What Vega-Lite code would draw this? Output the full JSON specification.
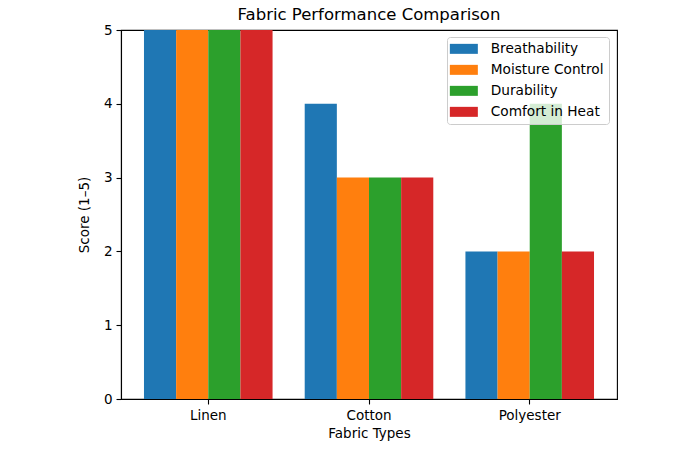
{
  "$schema": "https://vega.github.io/schema/vega-lite/v6.json",
  "autosize": {"type": "none"},
  "padding": {"left": 121, "top": 30, "right": 83, "bottom": 51},
  "width": 496,
  "height": 369,
  "title": {
    "text": "Fabric Performance Comparison",
    "font": "DejaVu Sans",
    "fontSize": 16.5,
    "fontWeight": "normal",
    "color": "black",
    "offset": 0
  },
  "config": {
    "font": "DejaVu Sans",
    "view": {"stroke": "black", "strokeWidth": 1.1},
    "axis": {
      "labelFont": "DejaVu Sans",
      "labelFontSize": 13.5,
      "labelColor": "black",
      "titleFont": "DejaVu Sans",
      "titleFontSize": 13.5,
      "titleFontWeight": "normal",
      "titleColor": "black",
      "domainColor": "black",
      "domainWidth": 1.1,
      "tickColor": "black",
      "tickWidth": 1.1,
      "tickSize": 5,
      "grid": false
    }
  },
  "data": {
    "values": [
      {"fabric": "Linen", "metric": "Breathability", "score": 5},
      {"fabric": "Linen", "metric": "Moisture Control", "score": 5},
      {"fabric": "Linen", "metric": "Durability", "score": 5},
      {"fabric": "Linen", "metric": "Comfort in Heat", "score": 5},
      {"fabric": "Cotton", "metric": "Breathability", "score": 4},
      {"fabric": "Cotton", "metric": "Moisture Control", "score": 3},
      {"fabric": "Cotton", "metric": "Durability", "score": 3},
      {"fabric": "Cotton", "metric": "Comfort in Heat", "score": 3},
      {"fabric": "Polyester", "metric": "Breathability", "score": 2},
      {"fabric": "Polyester", "metric": "Moisture Control", "score": 2},
      {"fabric": "Polyester", "metric": "Durability", "score": 4},
      {"fabric": "Polyester", "metric": "Comfort in Heat", "score": 2}
    ]
  },
  "mark": {"type": "bar", "clip": true},
  "encoding": {
    "x": {
      "field": "fabric",
      "type": "nominal",
      "sort": ["Linen", "Cotton", "Polyester"],
      "title": "Fabric Types",
      "scale": {"paddingInner": 0.2, "paddingOuter": 0.143},
      "axis": {"labelAngle": 0, "labelPadding": 4, "titlePadding": 5}
    },
    "xOffset": {
      "field": "metric",
      "type": "nominal",
      "sort": ["Breathability", "Moisture Control", "Durability", "Comfort in Heat"],
      "scale": {"paddingInner": 0, "paddingOuter": 0}
    },
    "y": {
      "field": "score",
      "type": "quantitative",
      "title": "Score (1–5)",
      "scale": {"domain": [0, 5], "nice": false},
      "axis": {"values": [0, 1, 2, 3, 4, 5], "labelPadding": 4, "titlePadding": 12}
    },
    "color": {
      "field": "metric",
      "type": "nominal",
      "sort": ["Breathability", "Moisture Control", "Durability", "Comfort in Heat"],
      "scale": {"range": ["#1f77b4", "#ff7f0e", "#2ca02c", "#d62728"]},
      "legend": {
        "title": null,
        "orient": "none",
        "legendX": 326,
        "legendY": 7,
        "fillColor": "rgba(255,255,255,0.8)",
        "strokeColor": "#cccccc",
        "cornerRadius": 3,
        "padding": 5,
        "symbolType": "M-2.8,-1H2.8V1H-2.8Z",
        "symbolSize": 100,
        "symbolOffset": 5,
        "symbolStrokeWidth": 0,
        "symbolOpacity": 1,
        "labelFont": "DejaVu Sans",
        "labelFontSize": 13.7,
        "labelColor": "black",
        "labelOffset": 20,
        "rowPadding": 6
      }
    }
  }
}
